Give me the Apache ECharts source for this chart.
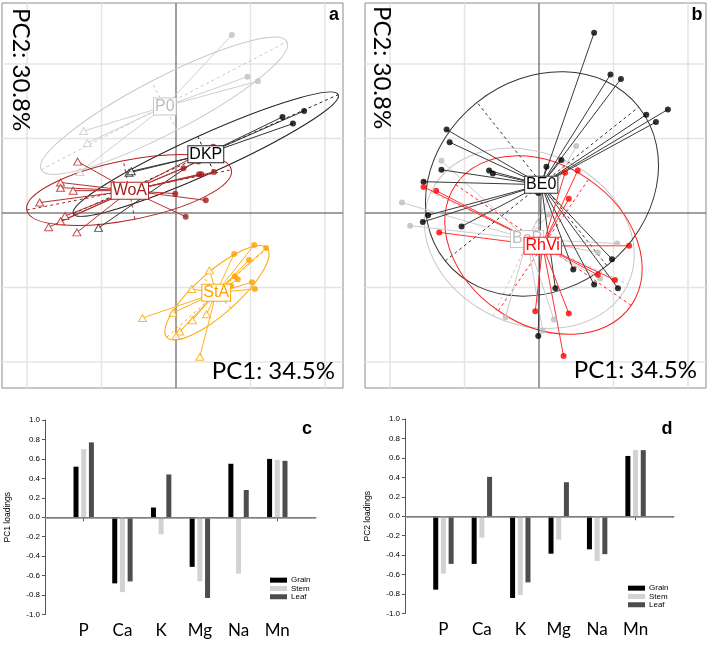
<!DOCTYPE html>
<html><head><meta charset="utf-8">
<script src="https://cdn.jsdelivr.net/npm/echarts@6/dist/echarts.min.js"></script>
<style>html,body{margin:0;padding:0;background:#fff}#c{width:709px;height:645px}</style>
</head><body><div id="c"></div>
<script>
// ---------- Panel a : PCA scores grouped by treatment (circles / open triangles) ----------
const a_P0_circ  = [[0.75,2.39],[0.96,1.83],[1.10,1.77]];
const a_P0_tri   = [[-1.24,1.10],[-1.19,0.94],[-1.29,0.55]];
const a_DKP_circ = [[1.43,1.29],[1.72,1.37],[1.57,1.20]];
const a_DKP_tri  = [[-0.63,0.54],[-0.60,0.56],[-1.04,-0.20]];
const a_WoA_circ = [[0.10,0.60],[0.31,0.52],[0.34,0.52],[0.51,0.55],[0.50,0.89],[0.30,0.69],[-0.01,0.26],[0.40,0.17],[0.13,-0.05]];
const a_WoA_tri  = [[-1.32,0.69],[-1.55,0.41],[-1.55,0.34],[-1.38,0.30],[-1.83,0.14],[-1.49,-0.04],[-1.55,-0.11],[-1.71,-0.19],[-1.33,-0.26]];
const a_StA_circ = [[1.05,-0.43],[1.21,-0.47],[0.78,-0.55],[0.98,-0.63],[0.79,-0.85],[0.83,-0.89],[1.02,-0.93],[0.74,-0.98],[1.06,-1.02]];
const a_StA_tri  = [[0.45,-0.77],[0.21,-1.02],[-0.45,-1.41],[-0.04,-1.34],[0.22,-1.44],[0.41,-1.36],[0.05,-1.59],[0.00,-1.65],[0.32,-1.93]];
// centroids (label positions) and ellipses [cx, cy, semiMajor, semiMinor, angleDeg]
const a_centroids = {P0:[-0.15,1.43], DKP:[0.40,0.79], WoA:[-0.62,0.30], StA:[0.54,-1.07]};
const a_ellipses  = {P0:[-0.16,1.44,1.86,0.37,27.5], DKP:[0.40,0.79,1.95,0.26,24.2], WoA:[-0.63,0.31,1.40,0.40,11.1], StA:[0.55,-1.07,0.90,0.28,41.6]};

// ---------- Panel b ----------
const b_BE0  = [[0.74,2.42],[0.96,1.86],[1.10,1.80],[1.44,1.32],[1.73,1.39],[1.57,1.22],[-1.24,1.12],[-1.20,0.95],[-1.31,0.58],[-0.67,0.57],[-0.62,0.53],[-1.55,0.42],[0.10,0.62],[0.30,0.71],[-0.01,0.27],[-1.49,-0.03],[-1.56,-0.12],[-1.04,-0.18],[0.98,-0.62],[0.46,-0.76],[0.74,-0.96],[1.06,-1.01],[0.22,-1.01],[-0.01,-1.65]];
const b_RhVi = [[-1.55,0.35],[-1.38,0.30],[-1.34,-0.26],[0.40,0.19],[0.35,0.54],[0.52,0.57],[1.21,-0.44],[1.02,-0.90],[0.79,-0.83],[-0.05,-1.32],[0.40,-1.35],[0.33,-1.92]];
const b_BaP  = [[0.50,0.90],[-1.31,0.70],[-1.84,0.14],[-1.73,-0.17],[1.05,-0.41],[0.79,-0.53],[0.82,-0.88],[0.13,-0.02],[-0.45,-1.40],[0.20,-1.43],[0.05,-1.58]];
const b_centroids = {BaP:[-0.16,-0.35], BE0:[0.03,0.38], RhVi:[0.05,-0.44]};
const b_ellipses  = {BaP:[-0.13,-0.34,1.46,1.15,-25], BE0:[0.04,0.39,1.66,1.40,38.5], RhVi:[0.06,-0.43,1.43,1.07,-34.5]};

// ---------- Panels c, d : loadings ----------
const elements = ['P','Ca','K','Mg','Na','Mn'];
const pc1Grain = [0.52,-0.68,0.10,-0.51,0.55,0.60];
const pc1Stem  = [0.70,-0.77,-0.175,-0.66,-0.58,0.59];
const pc1Leaf  = [0.77,-0.66,0.44,-0.83,0.28,0.58];
const pc2Grain = [-0.755,-0.49,-0.84,-0.385,-0.34,0.62];
const pc2Stem  = [-0.59,-0.22,-0.81,-0.24,-0.46,0.68];
const pc2Leaf  = [-0.49,0.405,-0.68,0.35,-0.39,0.68];
const gridTicks = [-2,-1,1,2];

const xCats = [''].concat(elements, ['']);

function gridRender(params, api) {
  const cs = params.coordSys;
  const v = api.value(0), dir = api.value(1);
  const p = api.coord(dir === 0 ? [v, 0] : [0, v]);
  const isZero = v === 0;
  const style = {stroke: isZero ? '#808080' : '#e4e4e4', lineWidth: 1.5, fill: 'none'};
  const shape = dir === 0 ? {x1:p[0], y1:cs.y, x2:p[0], y2:cs.y+cs.height} : {x1:cs.x, y1:p[1], x2:cs.x+cs.width, y2:p[1]};
  return {type:'line', shape: shape, style: style};
}
function ellRender(color) {
  return function(params, api) {
    const c = api.coord([api.value(0), api.value(1)]);
    const u = api.size([1, 1]);
    const a = api.value(2) * u[0], b = api.value(3) * u[0];
    const th = api.value(4) * Math.PI / 180;
    const ca = Math.cos(th), sa = Math.sin(th);
    return {type:'group', children:[
      {type:'ellipse', x:c[0], y:c[1], rotation:th, shape:{cx:0, cy:0, rx:a, ry:b}, style:{fill:'none', stroke:color, lineWidth:1}},
      {type:'line', shape:{x1:c[0]-a*ca, y1:c[1]+a*sa, x2:c[0]+a*ca, y2:c[1]-a*sa}, style:{stroke:color, lineWidth:1, lineDash:[3,3], fill:'none'}},
      {type:'line', shape:{x1:c[0]+b*sa, y1:c[1]+b*ca, x2:c[0]-b*sa, y2:c[1]-b*ca}, style:{stroke:color, lineWidth:1, lineDash:[3,3], fill:'none'}}
    ]};
  };
}
function starRender(color) {
  return function(params, api) {
    const p = api.coord([api.value(0), api.value(1)]);
    const c = api.coord([api.value(2), api.value(3)]);
    return {type:'line', shape:{x1:c[0], y1:c[1], x2:p[0], y2:p[1]}, style:{stroke:color, lineWidth:1, fill:'none'}};
  };
}
function labelRender(name, textColor, boxColor) {
  return function(params, api) {
    const c = api.coord([api.value(0), api.value(1)]);
    return {type:'text', x:c[0], y:c[1], style:{text:name, fill:textColor, fontSize:16, fontFamily:'Liberation Sans',
      align:'center', verticalAlign:'middle', backgroundColor:'#ffffff', borderColor:boxColor, borderWidth:1,
      padding:[1,1,0,1], lineHeight:15, opacity:1}};
  };
}

const groupsA = [
  {name:'P0',  line:'#cfcfcf', color:'#c8c8c8', point:'#bfbfbf', text:'#bdbdbd', circ:a_P0_circ,  tri:a_P0_tri},
  {name:'DKP', line:'#333333', color:'#222222', point:'#000000', text:'#000000', circ:a_DKP_circ, tri:a_DKP_tri},
  {name:'WoA', line:'#b53030', color:'#b22222', point:'#a51c1c', text:'#a51c1c', circ:a_WoA_circ, tri:a_WoA_tri},
  {name:'StA', line:'#ffb020', color:'#ffa500', point:'#ffa000', text:'#ffa000', circ:a_StA_circ, tri:a_StA_tri}
];
const groupsB = [
  {name:'BaP',  line:'#cccccc', color:'#c8c8c8', point:'#bdbdbd', text:'#bdbdbd', circ:b_BaP,  tri:[]},
  {name:'BE0',  line:'#3a3a3a', color:'#333333', point:'#000000', text:'#000000', circ:b_BE0,  tri:[]},
  {name:'RhVi', line:'#ff3030', color:'#ff2020', point:'#ff0000', text:'#ff0000', circ:b_RhVi, tri:[]}
];

const series = [];
[0,1].forEach(function(gi){
  series.push({type:'custom', coordinateSystem:'cartesian2d', xAxisIndex:gi, yAxisIndex:gi, silent:true, z:1,
    renderItem: gridRender,
    data: gridTicks.concat([0]).flatMap(function(v){ return [[v,0],[v,1]]; })});
});
function addGroups(groups, gi, cents, ells) {
  groups.forEach(function(g){
    series.push({type:'custom', coordinateSystem:'cartesian2d', xAxisIndex:gi, yAxisIndex:gi, silent:true, z:2,
      renderItem: ellRender(g.color), data:[ells[g.name]]});
  });
  groups.forEach(function(g){
    const cen = cents[g.name];
    series.push({type:'custom', coordinateSystem:'cartesian2d', xAxisIndex:gi, yAxisIndex:gi, silent:true, z:3,
      renderItem: starRender(g.line), data: g.circ.concat(g.tri).map(function(p){ return [p[0],p[1],cen[0],cen[1]]; })});
  });
  groups.forEach(function(g){
    if (g.tri.length) series.push({type:'scatter', xAxisIndex:gi, yAxisIndex:gi, silent:true, z:4, symbol:'triangle', symbolSize:[8,7],
      data:g.tri, itemStyle:{color:'#ffffff', borderColor:g.color, borderWidth:1}});
    series.push({type:'scatter', xAxisIndex:gi, yAxisIndex:gi, silent:true, z:4, symbol:'circle', symbolSize:6,
      data:g.circ, itemStyle:{color:g.point}});
  });
  groups.forEach(function(g){
    series.push({type:'custom', coordinateSystem:'cartesian2d', xAxisIndex:gi, yAxisIndex:gi, silent:true, z:6,
      renderItem: labelRender(g.name, g.text, g.color), data:[cents[g.name]]});
  });
}
addGroups(groupsA, 0, a_centroids, a_ellipses);
addGroups(groupsB, 1, b_centroids, b_ellipses);

function barSeries(name, vals, idx, color, withZero) {
  const s = {type:'bar', name:name, xAxisIndex:idx, yAxisIndex:idx, barWidth:5, barGap:'54%',
    data: elements.map(function(e,i){ return [e, vals[i]]; }), itemStyle:{color:color}, silent:true};
  if (withZero) s.markLine = {silent:true, symbol:'none', label:{show:false}, lineStyle:{color:'#8a8a8a', width:1.5, type:'solid'}, data:[{yAxis:0}]};
  return s;
}
series.push(barSeries('Grain', pc1Grain, 2, '#000000', true));
series.push(barSeries('Stem',  pc1Stem,  2, '#d2d2d2', false));
series.push(barSeries('Leaf',  pc1Leaf,  2, '#4d4d4d', false));
series.push(barSeries('Grain', pc2Grain, 3, '#000000', true));
series.push(barSeries('Stem',  pc2Stem,  3, '#d2d2d2', false));
series.push(barSeries('Leaf',  pc2Leaf,  3, '#4d4d4d', false));

function pcaX(gi){ return {type:'value', gridIndex:gi, min:-2.336, max:2.242, show:false}; }
function pcaY(gi){ return {type:'value', gridIndex:gi, min:-2.349, max:2.819, show:false}; }
function catX(gi){ return {type:'category', gridIndex:gi, data:xCats, boundaryGap:false,
  axisLine:{show:true, lineStyle:{color:'#555', width:1}},
  axisTick:{show:true, length:4, interval:function(i, v){ return v !== ''; }, lineStyle:{color:'#555'}},
  axisLabel:{show:true, interval:0, margin:8, fontSize:17, fontFamily:'Lato', color:'#000'}}; }
function loadY(gi, name){ return {type:'value', gridIndex:gi, min:-1, max:1, interval:0.2, name:name, nameLocation:'middle', nameRotate:90, nameGap:33,
  nameTextStyle:{fontSize:8.5, fontFamily:'Liberation Sans', color:'#000'},
  axisLine:{show:true, lineStyle:{color:'#555', width:1}},
  axisTick:{show:true, length:3, lineStyle:{color:'#555'}},
  splitLine:{show:false},
  axisLabel:{fontSize:8, fontFamily:'Liberation Sans', color:'#000', margin:5,
    formatter:function(v){ return Math.abs(v) < 1e-9 ? '0.0' : v.toFixed(1); }}}; }

const option = {
  animation:false,
  backgroundColor:'#ffffff',
  grid:[
    {left:2, top:3, width:341, height:385, show:true, borderColor:'#8c8c8c', borderWidth:1, backgroundColor:'#fff'},
    {left:365, top:3, width:341, height:385, show:true, borderColor:'#8c8c8c', borderWidth:1, backgroundColor:'#fff'},
    {left:45, top:420, width:271, height:194.5},
    {left:405, top:419, width:269, height:194.5}
  ],
  xAxis:[pcaX(0), pcaX(1), catX(2), catX(3)],
  yAxis:[pcaY(0), pcaY(1), loadY(2,'PC1 loadings'), loadY(3,'PC2 loadings')],
  legend:[
    {data:['Grain','Stem','Leaf'], left:270, top:576, padding:0, orient:'vertical', icon:'rect', itemWidth:17, itemHeight:5, itemGap:0,
      selectedMode:false, textStyle:{fontSize:8, lineHeight:8.3, fontFamily:'Liberation Sans', color:'#000', padding:[0,0,0,-1]}},
    {data:['Grain','Stem','Leaf'], left:628, top:584, padding:0, orient:'vertical', icon:'rect', itemWidth:17, itemHeight:5, itemGap:0,
      selectedMode:false, textStyle:{fontSize:8, lineHeight:8.3, fontFamily:'Liberation Sans', color:'#000', padding:[0,0,0,-1]}}
  ],
  graphic:[
    {type:'text', x:20.5, y:8, rotation:-Math.PI/2, z:100, style:{text:'PC2: 30.8%', fontSize:24, fontFamily:'Lato', fill:'#000', align:'left', verticalAlign:'middle', textAlign:'left', textVerticalAlign:'middle'}},
    {type:'text', x:381.5, y:6, rotation:-Math.PI/2, z:100, style:{text:'PC2: 30.8%', fontSize:24, fontFamily:'Lato', fill:'#000', align:'left', verticalAlign:'middle', textAlign:'left', textVerticalAlign:'middle'}},
    {type:'text', x:335, y:371.5, z:100, style:{text:'PC1: 34.5%', fontSize:24, fontFamily:'Lato', fill:'#000', align:'right', verticalAlign:'middle', textAlign:'right', textVerticalAlign:'middle'}},
    {type:'text', x:697, y:370.5, z:100, style:{text:'PC1: 34.5%', fontSize:24, fontFamily:'Lato', fill:'#000', align:'right', verticalAlign:'middle', textAlign:'right', textVerticalAlign:'middle'}},
    {type:'text', x:334, y:15, z:100, style:{text:'a', fontSize:18, fontWeight:'bold', fontFamily:'Liberation Sans', fill:'#000', align:'center', verticalAlign:'middle', textAlign:'center', textVerticalAlign:'middle'}},
    {type:'text', x:697, y:15, z:100, style:{text:'b', fontSize:18, fontWeight:'bold', fontFamily:'Liberation Sans', fill:'#000', align:'center', verticalAlign:'middle', textAlign:'center', textVerticalAlign:'middle'}},
    {type:'text', x:307, y:429, z:100, style:{text:'c', fontSize:18, fontWeight:'bold', fontFamily:'Liberation Sans', fill:'#000', align:'center', verticalAlign:'middle', textAlign:'center', textVerticalAlign:'middle'}},
    {type:'text', x:667, y:429, z:100, style:{text:'d', fontSize:18, fontWeight:'bold', fontFamily:'Liberation Sans', fill:'#000', align:'center', verticalAlign:'middle', textAlign:'center', textVerticalAlign:'middle'}}
  ],
  series: series
};
const chart = echarts.init(document.getElementById('c'), null, {renderer:'canvas'});
chart.setOption(option);
</script></body></html>
